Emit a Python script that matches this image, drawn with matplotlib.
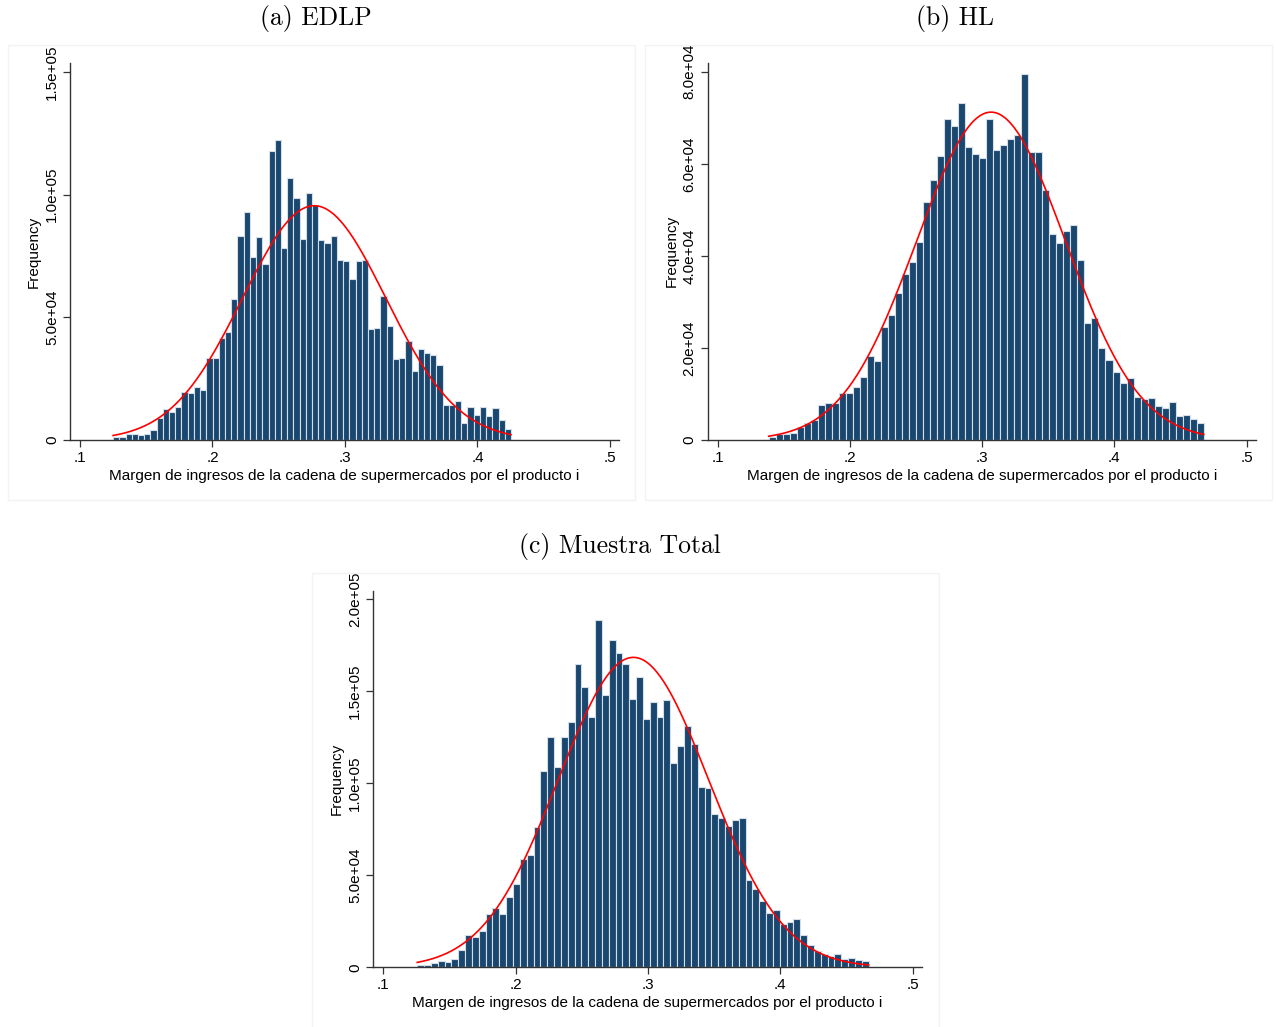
import numpy as np
import matplotlib.pyplot as plt
from matplotlib.patches import Rectangle

plt.rcParams['font.family'] = ['Liberation Sans', 'DejaVu Sans']

# ---- data (bin counts in thousands) ----
EDLP_COUNTS = [1.1, 1.1, 2.3, 2.3, 2.0, 2.3, 4.0, 9.0, 12.6, 11.4,
               13.4, 19.4, 19.0, 21.7, 20.2, 33.3, 33.6, 41.7, 44.2, 57.6,
               83.2, 92.8, 74.8, 82.9, 71.8, 117.8, 122.5, 78.2, 106.9, 98.7,
               82.0, 100.5, 95.9, 81.6, 80.2, 83.2, 73.4, 72.8, 65.6, 72.8,
               73.3, 45.4, 45.7, 58.9, 46.5, 33.0, 33.6, 40.5, 28.3, 36.9,
               35.5, 34.6, 30.4, 14.1, 14.1, 16.0, 6.9, 13.3, 10.2, 13.5,
               9.6, 12.9, 8.0, 4.6]
EDLP_START, EDLP_WIDTH = 0.1250, 0.004692
EDLP_MEAN, EDLP_SD = 0.2768, 0.0540

HL_COUNTS = [0.76, 1.27, 1.2, 1.5, 2.9, 3.7, 4.4, 7.7, 8.1, 8.1,
             10.2, 10.2, 11.6, 13.7, 18.2, 17.2, 24.5, 27.1, 32.0, 36.0,
             38.7, 43.0, 51.8, 56.4, 61.8, 69.7, 68.2, 73.2, 63.7, 62.1,
             61.2, 69.7, 63.0, 64.0, 65.3, 66.3, 79.5, 62.5, 62.5, 54.3,
             44.7, 42.7, 45.3, 46.6, 39.2, 25.5, 26.5, 20.0, 17.3, 14.7,
             12.3, 13.4, 9.4, 8.8, 9.2, 7.4, 7.0, 8.3, 5.3, 5.5,
             4.5, 3.8]
HL_START, HL_WIDTH = 0.1386, 0.005305
HL_MEAN, HL_SD = 0.3067, 0.0563

TOTAL_COUNTS = [1.0, 1.0, 2.3, 3.5, 3.0, 4.6, 9.3, 17.5, 16.2, 19.5,
                29.1, 32.2, 28.7, 38.3, 45.4, 58.8, 61.0, 76.4, 106.6, 125.1,
                109.1, 125.1, 133.6, 165.1, 152.6, 136.0, 188.7, 147.9, 177.8, 170.8,
                165.1, 145.9, 157.9, 134.9, 144.1, 136.1, 145.4, 111.3, 120.2, 130.9,
                121.3, 98.1, 97.7, 83.3, 81.3, 76.9, 80.0, 80.9, 47.6, 42.5,
                35.8, 29.4, 31.3, 23.6, 24.7, 26.5, 17.7, 12.1, 8.6, 7.0,
                6.4, 7.0, 4.5, 4.8, 3.7, 3.2]
TOTAL_START, TOTAL_WIDTH = 0.1257, 0.005167
TOTAL_MEAN, TOTAL_SD = 0.2890, 0.0567

X_TICKS = [0.1, 0.2, 0.3, 0.4, 0.5]
X_TICKLABELS = ['.1', '.2', '.3', '.4', '.5']
EDLP_YTICKS = [0, 5e4, 1e5, 1.5e5]
EDLP_YLABELS = ['0', '5.0e+04', '1.0e+05', '1.5e+05']
HL_YTICKS = [0, 2e4, 4e4, 6e4, 8e4]
HL_YLABELS = ['0', '2.0e+04', '4.0e+04', '6.0e+04', '8.0e+04']
TOTAL_YTICKS = [0, 5e4, 1e5, 1.5e5, 2e5]
TOTAL_YLABELS = ['0', '5.0e+04', '1.0e+05', '1.5e+05', '2.0e+05']

XLABEL = 'Margen de ingresos de la cadena de supermercados por el producto i'

BAR = '#1a476f'
EDGE = '#d5dee8'
AXC = '#333333'

W, H = 1276, 1027
fig = plt.figure(figsize=(W / 100, H / 100), dpi=100)


def px_rect(x0, y0, x1, y1):
    return [x0 / W, 1 - y1 / H, (x1 - x0) / W, (y1 - y0) / H]


def panel(rect, counts, start, width, mean, sd, yticks, ylabels, ytop):
    ax = fig.add_axes(rect)
    counts = np.array(counts) * 1000
    edges = start + width * np.arange(len(counts) + 1)
    ax.bar(edges[:-1], counts, width=width, align='edge', color=BAR,
           edgecolor=EDGE, linewidth=0.8, zorder=2)
    # normal density overlay, scaled to frequencies
    xs = np.linspace(edges[0], edges[-1], 400)
    n = counts.sum()
    dens = n * width / (sd * np.sqrt(2 * np.pi)) * np.exp(-0.5 * ((xs - mean) / sd) ** 2)
    ax.plot(xs, dens, color='red', lw=1.2, zorder=3)

    ax.set_xlim(0.0925, 0.5068)
    ax.set_ylim(0, ytop)
    ax.set_xticks(X_TICKS)
    ax.set_xticklabels(X_TICKLABELS, fontsize=11)
    ax.set_yticks(yticks)
    ax.set_yticklabels(ylabels, fontsize=11, rotation=90, va='center')
    for s in ('top', 'right'):
        ax.spines[s].set_visible(False)
    for s in ('left', 'bottom'):
        ax.spines[s].set_color(AXC)
        ax.spines[s].set_linewidth(1.0)
    ax.tick_params(colors=AXC, length=5, width=0.9, pad=3, labelcolor='black')
    ax.set_xlabel(XLABEL, fontsize=11, labelpad=2.5)
    ax.set_ylabel('Frequency', fontsize=11, labelpad=3)
    return ax


# faint frames around each graph
for x0, y0, x1, y1 in [(8, 45, 635, 500), (645, 45, 1272, 500), (312, 573, 939, 1030)]:
    fig.patches.append(Rectangle((x0 / W, 1 - y1 / H), (x1 - x0) / W, (y1 - y0) / H,
                                 transform=fig.transFigure, fill=False,
                                 edgecolor='#f3f3f3', linewidth=1.0))

panel(px_rect(70, 63, 619, 440), EDLP_COUNTS, EDLP_START, EDLP_WIDTH,
      EDLP_MEAN, EDLP_SD, EDLP_YTICKS, EDLP_YLABELS, 153.7e3)
panel(px_rect(707.7, 62.7, 1255.7, 440), HL_COUNTS, HL_START, HL_WIDTH,
      HL_MEAN, HL_SD, HL_YTICKS, HL_YLABELS, 81.96e3)
panel(px_rect(373.3, 590.7, 921.7, 967.3), TOTAL_COUNTS, TOTAL_START, TOTAL_WIDTH,
      TOTAL_MEAN, TOTAL_SD, TOTAL_YTICKS, TOTAL_YLABELS, 204.7e3)

title_kw = dict(fontsize=18.5, family='cmr10', ha='center', va='center')
fig.text(316 / W, 1 - 19 / H, '(a) EDLP', **title_kw)
fig.text(955 / W, 1 - 19 / H, '(b) HL', **title_kw)
fig.text(620 / W, 1 - 547 / H, '(c) Muestra Total', **title_kw)

fig.savefig('out.png', dpi=100)
